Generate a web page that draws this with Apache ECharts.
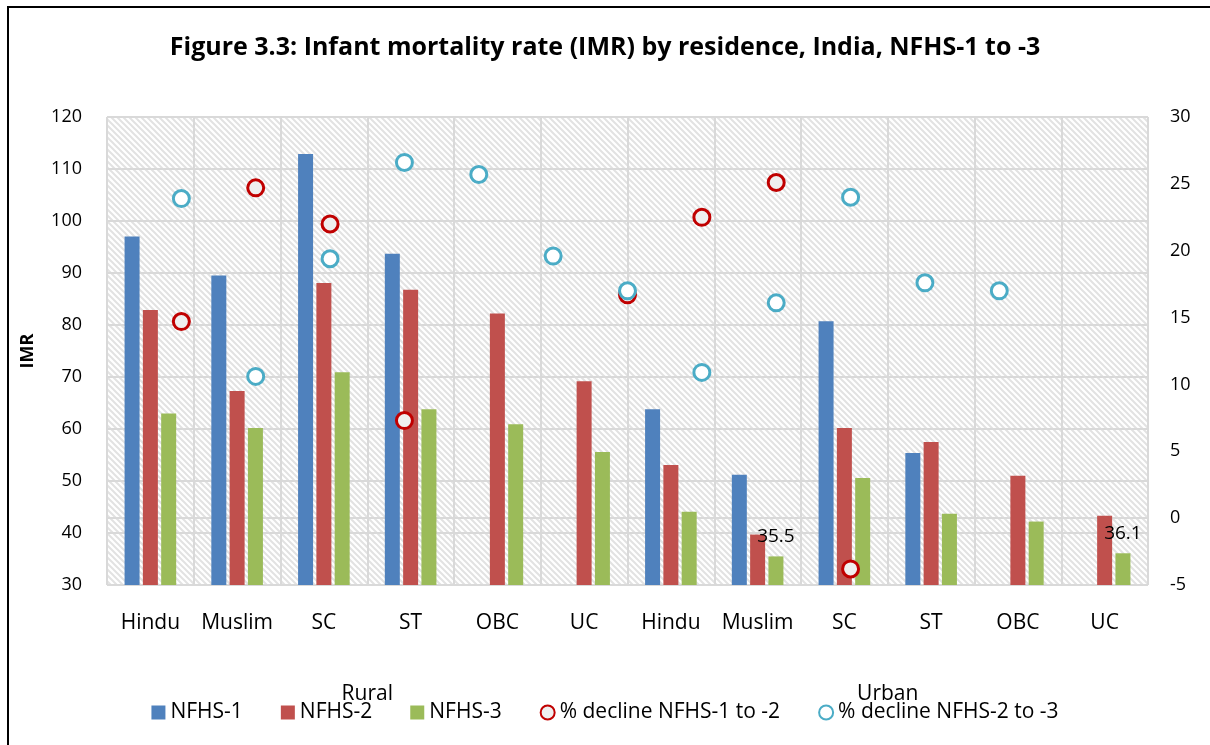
<!DOCTYPE html>
<html>
<head>
<meta charset="utf-8">
<script src="https://cdn.jsdelivr.net/npm/echarts@6/dist/echarts.min.js"></script>
<style>
  html, body { margin: 0; padding: 0; background: #fff; }
  #chart { width: 1210px; height: 745px; }
</style>
</head>
<body>
<div id="chart"></div>
<script>
// categories (two levels)
var groups = ["Rural", "Urban"];
var categories = ["Hindu", "Muslim", "SC", "ST", "OBC", "UC",
                  "Hindu", "Muslim", "SC", "ST", "OBC", "UC"];

// IMR values
var nfhs1 = [97.0, 89.5, 112.9, 93.7, null, null, 63.8, 51.2, 80.7, 55.4, null, null];
var nfhs2 = [82.9, 67.3, 88.1, 86.8, 82.2, 69.2, 53.1, 39.7, 60.2, 57.5, 51.0, 43.3];
var nfhs3 = [63.0, 60.2, 70.9, 63.8, 60.9, 55.6, 44.1, 35.5, 50.6, 43.7, 42.2, 36.1];

// % decline (right axis)
var decline12 = [14.7, 24.7, 22.0, 7.3, null, null, 16.7, 22.5, 25.1, -3.8, null, null];
var decline23 = [23.9, 10.6, 19.4, 26.6, 25.7, 19.6, 17.0, 10.9, 16.1, 24.0, 17.6, 17.0];

// only these NFHS-3 bars carry a value label
var labelledIdx = [7, 11];

var font = "'Open Sans', Lato, sans-serif";

// diagonal hatch for the plot area
function makeHatch() {
    var c = document.createElement("canvas");
    c.width = 6; c.height = 6;
    var ctx = c.getContext("2d");
    ctx.fillStyle = "#ffffff";
    ctx.fillRect(0, 0, 6, 6);
    ctx.strokeStyle = "#e2e2e2";
    ctx.lineWidth = 2;
    ctx.beginPath();
    ctx.moveTo(-1, -1); ctx.lineTo(7, 7);
    ctx.moveTo(-4, 2); ctx.lineTo(2, 8);
    ctx.moveTo(2, -4); ctx.lineTo(8, 2);
    ctx.stroke();
    return c;
}

function toPoints(arr) {
    var out = [];
    arr.forEach(function (v, i) {
        if (v !== null) out.push([i + 1, v]);
    });
    return out;
}

var nfhs3Data = nfhs3.map(function (v, i) {
    if (labelledIdx.indexOf(i) >= 0) {
        return { value: v, label: { show: true } };
    }
    return v;
});

var gridColor = "#d9d9d9";

var option = {
    animation: false,
    textStyle: { fontFamily: font },
    title: {
        text: "Figure 3.3: Infant mortality rate (IMR) by residence, India, NFHS-1 to -3",
        left: "center",
        top: 30,
        textStyle: { fontSize: 25, fontWeight: "bold", color: "#000", fontFamily: font }
    },
    graphic: [{
        type: "rect",
        shape: { x: 8, y: 7, width: 1300, height: 800 },
        style: { fill: null, stroke: "#000", lineWidth: 2 },
        silent: true
    }],
    legend: {
        top: 697,
        left: "center",
        itemWidth: 14,
        itemHeight: 14,
        itemGap: 38,
        textStyle: { fontSize: 21, color: "#000", fontFamily: font },
        data: [
            { name: "NFHS-1", icon: "rect" },
            { name: "NFHS-2", icon: "rect" },
            { name: "NFHS-3", icon: "rect" },
            { name: "% decline NFHS-1 to -2", icon: "circle" },
            { name: "% decline NFHS-2 to -3", icon: "circle" }
        ]
    },
    grid: {
        left: 107,
        right: 62,
        top: 117,
        bottom: 160,
        show: true,
        borderWidth: 0,
        backgroundColor: { image: makeHatch(), repeat: "repeat" }
    },
    xAxis: [{
        type: "category",
        data: categories,
        position: "bottom",
        axisLine: { lineStyle: { color: gridColor, width: 2 } },
        axisTick: { interval: 0, length: 70, lineStyle: { color: gridColor, width: 2 } },
        axisLabel: { interval: 0, margin: 28, fontSize: 21, color: "#000", fontFamily: font },
        splitLine: { show: true, interval: 0, lineStyle: { color: gridColor, width: 2 } }
    }, {
        type: "category",
        data: groups,
        position: "bottom",
        offset: 0,
        axisLine: { show: false },
        axisTick: { interval: 0, length: 139, lineStyle: { color: gridColor, width: 2 } },
        axisLabel: { interval: 0, margin: 99, fontSize: 21, color: "#000", fontFamily: font },
        splitLine: { show: false }
    }, {
        type: "value",
        min: 0,
        max: 14,
        show: false
    }],
    yAxis: [{
        type: "value",
        min: 30,
        max: 120,
        interval: 10,
        name: "IMR",
        nameLocation: "middle",
        nameGap: 70,
        nameTextStyle: { fontSize: 18, fontWeight: "bold", color: "#000", fontFamily: font },
        axisLine: { show: false },
        axisTick: { show: false },
        axisLabel: { margin: 25, fontSize: 18, color: "#000", fontFamily: font },
        splitLine: { show: true, lineStyle: { color: gridColor, width: 2 } }
    }, {
        type: "value",
        min: -5,
        max: 30,
        interval: 5,
        position: "right",
        axisLine: { show: false },
        axisTick: { show: false },
        axisLabel: { margin: 22, fontSize: 18, color: "#000", fontFamily: font },
        splitLine: { show: false }
    }],
    series: [{
        name: "NFHS-1",
        type: "bar",
        xAxisIndex: 0,
        yAxisIndex: 0,
        barWidth: 15,
        barGap: "22%",
        itemStyle: { color: "#4F81BD" },
        data: nfhs1
    }, {
        name: "NFHS-2",
        type: "bar",
        xAxisIndex: 0,
        yAxisIndex: 0,
        barWidth: 15,
        barGap: "22%",
        itemStyle: { color: "#C0504D" },
        data: nfhs2
    }, {
        name: "NFHS-3",
        type: "bar",
        xAxisIndex: 0,
        yAxisIndex: 0,
        barWidth: 15,
        barGap: "22%",
        itemStyle: { color: "#9BBB59" },
        label: {
            show: false,
            position: "top",
            distance: 10,
            fontSize: 19,
            color: "#000",
            fontFamily: font
        },
        data: nfhs3Data
    }, {
        name: "% decline NFHS-1 to -2",
        type: "scatter",
        xAxisIndex: 2,
        yAxisIndex: 1,
        symbol: "circle",
        symbolSize: 16,
        itemStyle: { color: "#efefef", borderColor: "#C00000", borderWidth: 3, opacity: 1 },
        data: toPoints(decline12)
    }, {
        name: "% decline NFHS-2 to -3",
        type: "scatter",
        xAxisIndex: 2,
        yAxisIndex: 1,
        symbol: "circle",
        symbolSize: 16,
        itemStyle: { color: "#ffffff", borderColor: "#4BACC6", borderWidth: 3, opacity: 1 },
        data: toPoints(decline23)
    }]
};

var myChart = echarts.init(document.getElementById("chart"));
myChart.setOption(option);
</script>
</body>
</html>
